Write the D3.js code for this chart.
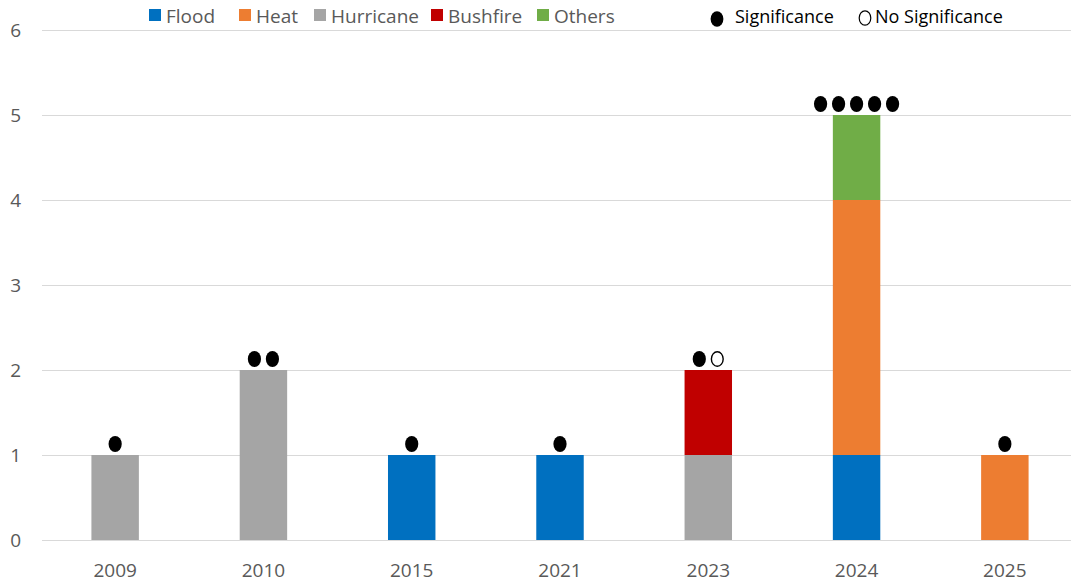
<!DOCTYPE html>
<html>
<head>
<meta charset="utf-8">
<script src="https://cdn.jsdelivr.net/npm/d3@7"></script>
<style>
  body { margin: 0; background: #fff; }
  svg { display: block; font-family: "Open Sans", "Noto Sans", sans-serif; }
</style>
</head>
<body>
<div id="chart"></div>
<script>
const years = ["2009", "2010", "2015", "2021", "2023", "2024", "2025"];
const types = ["Flood", "Heat", "Hurricane", "Bushfire", "Others"];
const flood     = [0, 0, 1, 1, 0, 1, 0];
const heat      = [0, 0, 0, 0, 0, 3, 1];
const hurricane = [1, 2, 0, 0, 1, 0, 0];
const bushfire  = [0, 0, 0, 0, 1, 0, 0];
const others    = [0, 0, 0, 0, 0, 1, 0];
const significant   = [1, 2, 1, 1, 1, 5, 1];
const noSignificant = [0, 0, 0, 0, 1, 0, 0];
const yTicks = [0, 1, 2, 3, 4, 5, 6];

const colors = ["#0070C0", "#ED7D31", "#A5A5A5", "#C00000", "#70AD47"];
const textColor = "#595959";

const width = 1071, height = 583;
const svg = d3.select("#chart").append("svg")
  .attr("width", width)
  .attr("height", height);

const x = d3.scaleBand()
  .domain(years)
  .range([41, 1079])
  .paddingInner(0.68)
  .paddingOuter(0.34);

const y = d3.scaleLinear()
  .domain([0, 6])
  .range([540, 30]);

// gridlines
svg.append("g")
  .selectAll("line")
  .data(yTicks)
  .enter()
  .append("line")
  .attr("x1", 42)
  .attr("x2", width)
  .attr("y1", d => Math.round(y(d)) + 0.5)
  .attr("y2", d => Math.round(y(d)) + 0.5)
  .attr("stroke", "#d9d9d9")
  .attr("stroke-width", 1);

// y labels
svg.append("g")
  .selectAll("text")
  .data(yTicks)
  .enter()
  .append("text")
  .attr("x", 21)
  .attr("y", d => y(d))
  .attr("dy", "0.35em")
  .attr("text-anchor", "end")
  .attr("fill", textColor)
  .attr("font-size", 19)
  .text(d => d);

// stacked bars
const table = years.map((yr, i) => ({
  year: yr,
  Flood: flood[i], Heat: heat[i], Hurricane: hurricane[i],
  Bushfire: bushfire[i], Others: others[i]
}));
const series = d3.stack().keys(types)(table);

svg.append("g")
  .selectAll("g")
  .data(series)
  .enter()
  .append("g")
  .attr("fill", (d, i) => colors[i])
  .selectAll("rect")
  .data(d => d.filter(s => s[1] > s[0]))
  .enter()
  .append("rect")
  .attr("x", d => x(d.data.year))
  .attr("y", d => y(d[1]))
  .attr("width", x.bandwidth())
  .attr("height", d => y(d[0]) - y(d[1]));

// x labels
svg.append("g")
  .selectAll("text")
  .data(years)
  .enter()
  .append("text")
  .attr("x", d => x(d) + x.bandwidth() / 2)
  .attr("y", 577)
  .attr("text-anchor", "middle")
  .attr("fill", textColor)
  .attr("font-size", 19)
  .text(d => d);

// significance markers
const step = 18;
const markers = [];
years.forEach((yr, i) => {
  const n = significant[i] + noSignificant[i];
  const total = flood[i] + heat[i] + hurricane[i] + bushfire[i] + others[i];
  for (let k = 0; k < n; k++) {
    markers.push({
      cx: x(yr) + x.bandwidth() / 2 + (k - (n - 1) / 2) * step,
      cy: y(total) - 11,
      filled: k < significant[i]
    });
  }
});

svg.append("g")
  .selectAll("ellipse")
  .data(markers)
  .enter()
  .append("ellipse")
  .attr("cx", d => d.cx)
  .attr("cy", d => d.cy)
  .attr("rx", d => d.filled ? 6.6 : 5.9)
  .attr("ry", d => d.filled ? 8 : 7.3)
  .attr("fill", d => d.filled ? "#000" : "#fff")
  .attr("stroke", "#000")
  .attr("stroke-width", d => d.filled ? 0 : 1.4);

// legend
const legendX = [149, 239, 314, 431, 537];
const legend = svg.append("g");
types.forEach((t, i) => {
  legend.append("rect")
    .attr("x", legendX[i])
    .attr("y", 9)
    .attr("width", 12)
    .attr("height", 12)
    .attr("fill", colors[i]);
  legend.append("text")
    .attr("x", legendX[i] + 17)
    .attr("y", 16)
    .attr("dy", "0.35em")
    .attr("fill", textColor)
    .attr("font-size", 19)
    .text(t);
});

legend.append("ellipse")
  .attr("cx", 717).attr("cy", 19)
  .attr("rx", 6.4).attr("ry", 7.8)
  .attr("fill", "#000");
legend.append("text")
  .attr("x", 735).attr("y", 17)
  .attr("dy", "0.35em")
  .attr("fill", "#000")
  .attr("font-size", 18)
  .text("Significance");

legend.append("ellipse")
  .attr("cx", 865).attr("cy", 18)
  .attr("rx", 5.8).attr("ry", 7.2)
  .attr("fill", "#fff")
  .attr("stroke", "#000")
  .attr("stroke-width", 1.2);
legend.append("text")
  .attr("x", 875).attr("y", 17)
  .attr("dy", "0.35em")
  .attr("fill", "#000")
  .attr("font-size", 18)
  .text("No Significance");
</script>
</body>
</html>
